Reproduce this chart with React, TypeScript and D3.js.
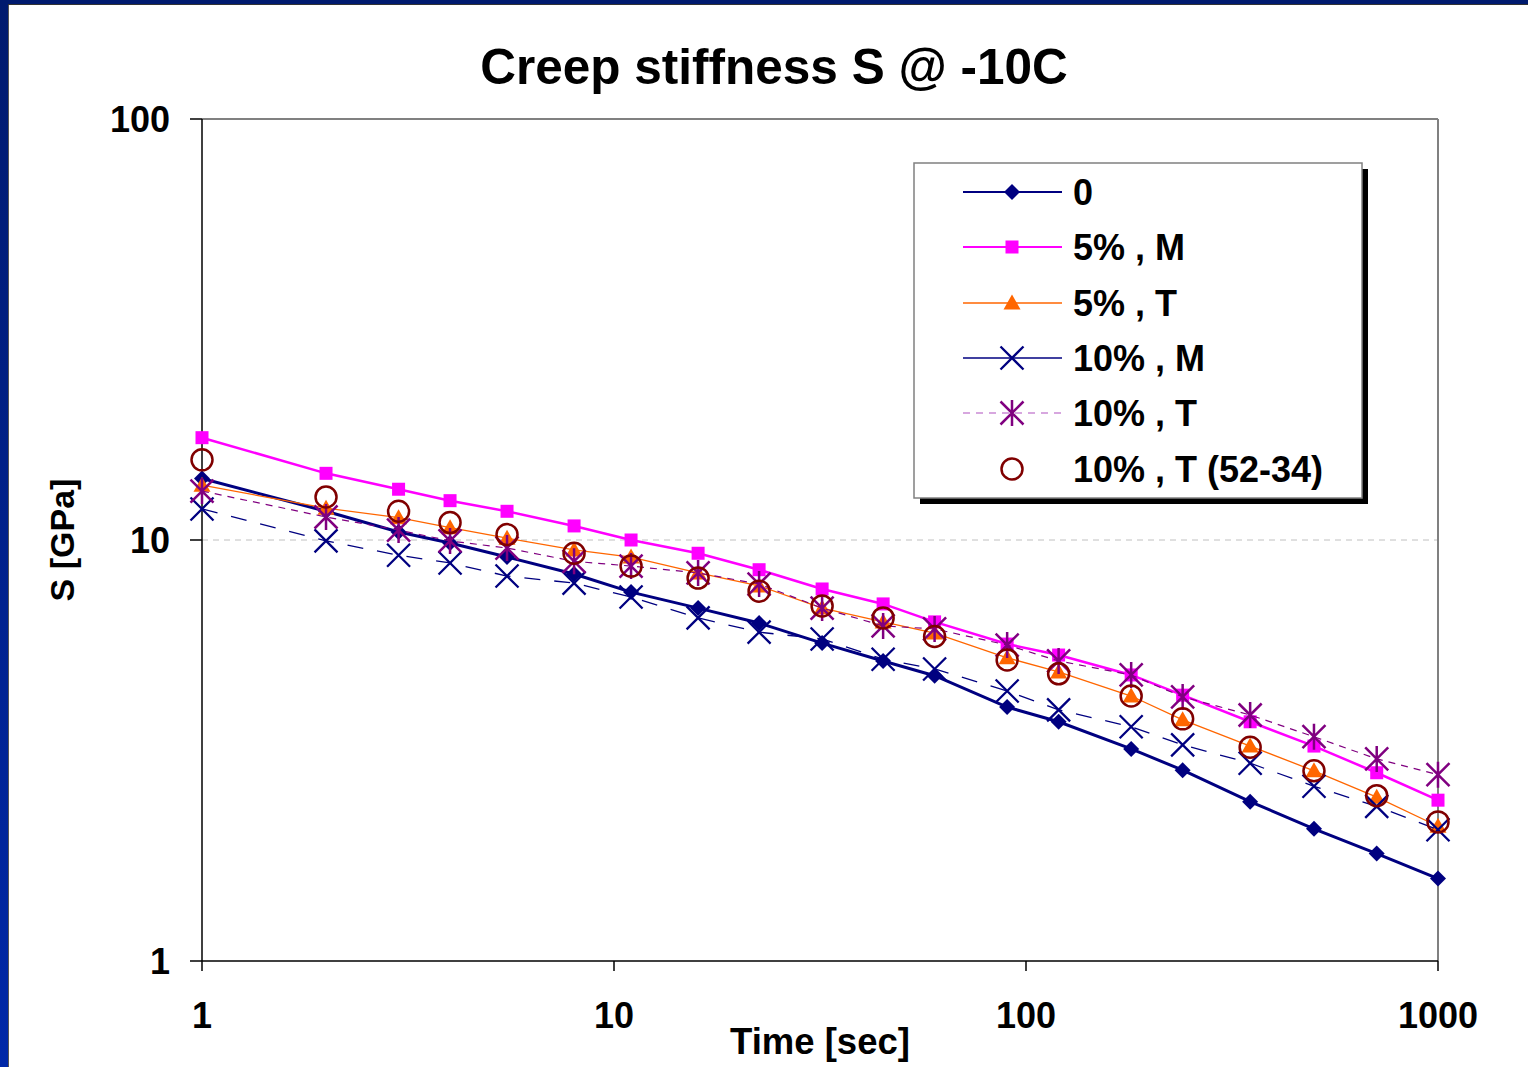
import React from "react";
import * as d3 from "d3";

const times = [1, 2, 3, 4, 5.5, 8, 11, 16, 22.5, 32, 45, 60, 90, 120, 180, 240, 350, 500, 710, 1000];
const s0 = [14.0, 11.7, 10.45, 9.84, 9.11, 8.3, 7.52, 6.89, 6.35, 5.69, 5.16, 4.76, 4.01, 3.7, 3.19, 2.84, 2.39, 2.06, 1.8, 1.57];
const s5M = [17.5, 14.4, 13.2, 12.4, 11.7, 10.8, 10.0, 9.3, 8.5, 7.65, 7.05, 6.39, 5.66, 5.33, 4.78, 4.28, 3.7, 3.24, 2.8, 2.41];
const s5T = [13.5, 11.9, 11.3, 10.7, 10.1, 9.47, 9.11, 8.35, 7.78, 6.89, 6.39, 6.01, 5.25, 4.86, 4.26, 3.74, 3.24, 2.83, 2.45, 2.09];
const s10M = [11.85, 9.95, 9.2, 8.82, 8.21, 7.9, 7.32, 6.53, 6.04, 5.82, 5.21, 4.94, 4.38, 3.95, 3.6, 3.26, 2.95, 2.6, 2.33, 2.05];
const s10T = [13.07, 11.34, 10.56, 9.95, 9.57, 8.9, 8.67, 8.35, 7.86, 6.89, 6.25, 6.15, 5.63, 5.16, 4.78, 4.24, 3.84, 3.41, 3.02, 2.77];
const s10T52 = [15.5, 12.65, 11.7, 11.0, 10.3, 9.3, 8.67, 8.12, 7.56, 6.97, 6.53, 5.9, 5.19, 4.81, 4.26, 3.76, 3.22, 2.83, 2.47, 2.14];

const seriesNames = ["0", "5% , M", "5% , T", "10% , M", "10% , T", "10% , T (52-34)"];
const xTicks = [1, 10, 100, 1000];
const yTicks = [1, 10, 100];

type Style = { color: string; width: number; dash?: string; legendDash?: string; legendColor?: string; line: boolean; marker: string };
const styles: Style[] = [
  { color: "#000080", width: 3, line: true, marker: "diamond" },
  { color: "#ff00ff", width: 2.5, line: true, marker: "square" },
  { color: "#ff6600", width: 1.3, line: true, marker: "triangle" },
  { color: "#000080", width: 1.3, dash: "16,14", line: true, marker: "x" },
  { color: "#800080", width: 1.2, dash: "7,6", legendDash: "7,6", legendColor: "#b050c0", line: true, marker: "star" },
  { color: "#800000", width: 1, line: false, marker: "circle" },
];
const allSeries = [s0, s5M, s5T, s10M, s10T, s10T52];

function Marker({ kind, x, y, color }: { kind: string; x: number; y: number; color: string }) {
  switch (kind) {
    case "diamond":
      return <path d={`M${x},${y - 8}L${x + 8},${y}L${x},${y + 8}L${x - 8},${y}Z`} fill={color} />;
    case "square":
      return <rect x={x - 6.5} y={y - 6.5} width={13} height={13} fill={color} />;
    case "triangle":
      return <path d={`M${x},${y - 8.5}L${x + 8.5},${y + 6.5}L${x - 8.5},${y + 6.5}Z`} fill={color} />;
    case "x":
      return (
        <path d={`M${x - 11.5},${y - 11.5}L${x + 11.5},${y + 11.5}M${x - 11.5},${y + 11.5}L${x + 11.5},${y - 11.5}`} stroke={color} strokeWidth={2.3} fill="none" />
      );
    case "star":
      return (
        <path
          d={`M${x - 11.5},${y - 11.5}L${x + 11.5},${y + 11.5}M${x - 11.5},${y + 11.5}L${x + 11.5},${y - 11.5}M${x},${y - 13}L${x},${y + 13}`}
          stroke={color}
          strokeWidth={2.5}
          fill="none"
        />
      );
    case "circle":
      return <circle cx={x} cy={y} r={10.5} stroke={color} strokeWidth={2.5} fill="none" />;
  }
  return null;
}

export default function App() {
  const W = 1528;
  const H = 1067;
  const left = 202, right = 1438, top = 119, bottom = 961;
  const x = d3.scaleLog().domain([1, 1000]).range([left, right]);
  const y = d3.scaleLog().domain([1, 100]).range([bottom, top]);
  const font = "'Liberation Sans', Arial, sans-serif";

  const lineGen = d3
    .line<[number, number]>()
    .x((d) => x(d[0]))
    .y((d) => y(d[1]));

  const legX = 914, legY = 163, legW = 448, legH = 335;
  const rowY = [192, 247, 303, 358, 413, 469];

  return (
    <svg width={W} height={H} style={{ position: "absolute", left: 0, top: 0 }} fontFamily={font}>
      <defs>
        <linearGradient id="bar" x1="0" y1="0" x2="0" y2="1">
          <stop offset="0" stopColor="#001a6e" />
          <stop offset="1" stopColor="#0028a8" />
        </linearGradient>
      </defs>
      <rect x={0} y={0} width={W} height={H} fill="#ffffff" />
      <rect x={0} y={0} width={8} height={H} fill="url(#bar)" />
      <rect x={0} y={0} width={W} height={4} fill="#001a6e" />
      <line x1={8.5} y1={4} x2={8.5} y2={H} stroke="#555" strokeWidth={1} />
      <line x1={8} y1={4.5} x2={W} y2={4.5} stroke="#333" strokeWidth={1} />

      <text x={774} y={84} textAnchor="middle" fontSize={49.5} fontWeight="bold" fill="#000">
        Creep stiffness S @ -10C
      </text>

      {/* gridline at 10 */}
      <line x1={left} x2={right} y1={y(10)} y2={y(10)} stroke="#c0c0c0" strokeWidth={1} strokeDasharray="6,5" />

      {/* plot border */}
      <line x1={left} x2={right} y1={top} y2={top} stroke="#808080" strokeWidth={2} />
      <line x1={right} x2={right} y1={top} y2={bottom} stroke="#808080" strokeWidth={2} />
      <line x1={left} x2={left} y1={top} y2={bottom} stroke="#000" strokeWidth={1.5} />
      <line x1={left} x2={right} y1={bottom} y2={bottom} stroke="#000" strokeWidth={1.5} />

      {yTicks.map((t) => (
        <g key={"y" + t}>
          <line x1={left - 12} x2={left} y1={y(t)} y2={y(t)} stroke="#000" strokeWidth={1.5} />
          <text x={170} y={y(t) + 13} textAnchor="end" fontSize={36} fontWeight="bold">
            {t}
          </text>
        </g>
      ))}
      {xTicks.map((t) => (
        <g key={"x" + t}>
          <line x1={x(t)} x2={x(t)} y1={bottom} y2={bottom + 10} stroke="#000" strokeWidth={1.5} />
          <text x={x(t)} y={1028} textAnchor="middle" fontSize={36} fontWeight="bold">
            {t}
          </text>
        </g>
      ))}
      <text x={820} y={1054} textAnchor="middle" fontSize={36.5} fontWeight="bold">
        Time [sec]
      </text>
      <text transform="translate(74,540) rotate(-90)" textAnchor="middle" fontSize={34} fontWeight="bold">
        S [GPa]
      </text>

      {allSeries.map((vals, i) => {
        const st = styles[i];
        const pts = times.map((t, k) => [t, vals[k]] as [number, number]);
        return (
          <g key={"s" + i}>
            {st.line && (
              <path d={lineGen(pts) || ""} fill="none" stroke={st.color} strokeWidth={st.width} strokeDasharray={st.dash} />
            )}
            {pts.map((p, k) => (
              <Marker key={k} kind={st.marker} x={x(p[0])} y={y(p[1])} color={st.color} />
            ))}
          </g>
        );
      })}

      {/* legend */}
      <rect x={legX + 6} y={legY + 6} width={legW} height={legH} fill="#000" />
      <rect x={legX} y={legY} width={legW} height={legH} fill="#fff" stroke="#808080" strokeWidth={1.5} />
      {seriesNames.map((name, i) => {
        const st = styles[i];
        const yy = rowY[i];
        return (
          <g key={"l" + i}>
            {st.line && (
              <line x1={963} x2={1062} y1={yy} y2={yy} stroke={st.legendColor || st.color} strokeWidth={Math.min(st.width, 2)} strokeDasharray={st.legendDash} />
            )}
            <Marker kind={st.marker} x={1012} y={yy} color={st.color} />
            <text x={1073} y={yy + 13} fontSize={36} fontWeight="bold">
              {name}
            </text>
          </g>
        );
      })}
    </svg>
  );
}
